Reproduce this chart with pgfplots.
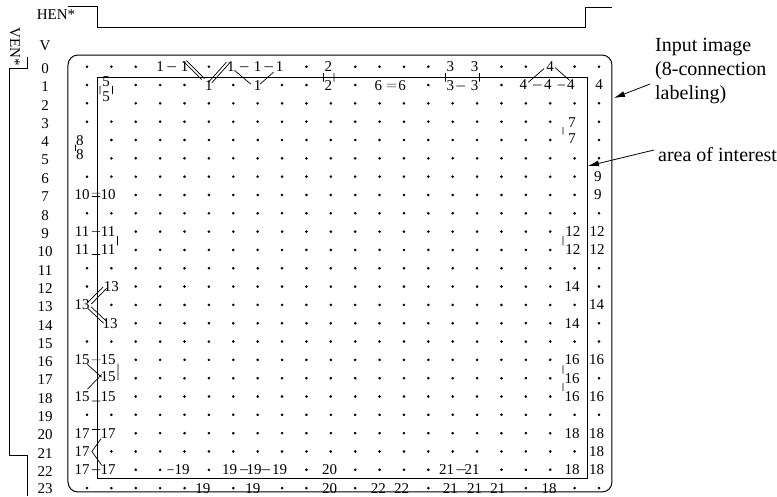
\documentclass[border=0pt]{standalone}
\usepackage{fontspec}
\setmainfont{Liberation Serif}
\usepackage{pgfplots}
\pgfplotsset{compat=1.18}
\usetikzlibrary{arrows.meta}

\newcommand\labfont{\fontsize{15}{18}\selectfont}
\newcommand\notefont{\fontsize{20}{24}\selectfont}

\pgfplotsset{
  every axis/.append style={width=777pt,height=496pt,scale only axis,hide axis,
    clip=false,at={(0,0)},anchor=south west},
  link/.style={black,line width=0.7pt,mark=none,unbounded coords=jump},
  lab/.style={draw=none,mark=none,nodes near coords,point meta=explicit symbolic,
    every node near coord/.append style={anchor=center,inner sep=0pt,font=\labfont,black}},
}

\begin{document}
\begin{tikzpicture}
% grid axis: x = column, y = row (pixel grid of the image)
\begin{axis}[xmin=-3.568,xmax=28.30,ymin=-3.641,ymax=23.43,y dir=reverse]
  % grid points without label
  \addplot[only marks,mark=*,mark size=1.1pt,black] coordinates {
    (0,0)(1,0)(2,0)(5,0)(9,0)(11,0)(12,0)(13,0)(14,0)(17,0)(18,0)(20,0)(21,0)
    (0,1)(2,1)(3,1)(4,1)(6,1)(8,1)(9,1)(11,1)(14,1)(17,1)
    (0,2)(2,2)(3,2)(4,2)(5,2)(6,2)(7,2)(8,2)(9,2)(10,2)(11,2)(12,2)(13,2)(14,2)(15,2)(16,2)(17,2)(18,2)(19,2)(20,2)(21,2)
    (0,3)(1,3)(2,3)(3,3)(4,3)(5,3)(6,3)(7,3)(8,3)(9,3)(10,3)(11,3)(12,3)(13,3)(14,3)(15,3)(16,3)(17,3)(18,3)(19,3)(21,3)
    (1,4)(2,4)(3,4)(4,4)(5,4)(6,4)(7,4)(8,4)(9,4)(10,4)(11,4)(12,4)(13,4)(14,4)(15,4)(16,4)(17,4)(18,4)(19,4)(21,4)
    (1,5)(2,5)(3,5)(4,5)(5,5)(6,5)(7,5)(8,5)(9,5)(10,5)(11,5)(12,5)(13,5)(14,5)(15,5)(16,5)(17,5)(18,5)(19,5)(20,5)(21,5)
    (0,6)(1,6)(2,6)(3,6)(4,6)(5,6)(6,6)(7,6)(8,6)(9,6)(10,6)(11,6)(12,6)(13,6)(14,6)(15,6)(16,6)(17,6)(18,6)(19,6)(20,6)
    (2,7)(3,7)(4,7)(5,7)(6,7)(7,7)(8,7)(9,7)(10,7)(11,7)(12,7)(13,7)(14,7)(15,7)(16,7)(17,7)(18,7)(19,7)(20,7)
    (0,8)(1,8)(2,8)(3,8)(4,8)(5,8)(6,8)(7,8)(8,8)(9,8)(10,8)(11,8)(12,8)(13,8)(14,8)(15,8)(16,8)(17,8)(18,8)(19,8)(20,8)(21,8)
    (2,9)(3,9)(4,9)(5,9)(6,9)(7,9)(8,9)(9,9)(10,9)(11,9)(12,9)(13,9)(14,9)(15,9)(16,9)(17,9)(18,9)(19,9)
    (2,10)(3,10)(4,10)(5,10)(6,10)(7,10)(8,10)(9,10)(10,10)(11,10)(12,10)(13,10)(14,10)(15,10)(16,10)(17,10)(18,10)(19,10)
    (0,11)(1,11)(2,11)(3,11)(4,11)(5,11)(6,11)(7,11)(8,11)(9,11)(10,11)(11,11)(12,11)(13,11)(14,11)(15,11)(16,11)(17,11)(18,11)(19,11)(20,11)(21,11)
    (0,12)(2,12)(3,12)(4,12)(5,12)(6,12)(7,12)(8,12)(9,12)(10,12)(11,12)(12,12)(13,12)(14,12)(15,12)(16,12)(17,12)(18,12)(19,12)(21,12)
    (1,13)(2,13)(3,13)(4,13)(5,13)(6,13)(7,13)(8,13)(9,13)(10,13)(11,13)(12,13)(13,13)(14,13)(15,13)(16,13)(17,13)(18,13)(19,13)(20,13)
    (2,14)(3,14)(4,14)(5,14)(6,14)(7,14)(8,14)(9,14)(10,14)(11,14)(12,14)(13,14)(14,14)(15,14)(16,14)(17,14)(18,14)(19,14)(21,14)
    (0,15)(1,15)(2,15)(3,15)(4,15)(5,15)(6,15)(7,15)(8,15)(9,15)(10,15)(11,15)(12,15)(13,15)(14,15)(15,15)(16,15)(17,15)(18,15)(19,15)(20,15)(21,15)
    (2,16)(3,16)(4,16)(5,16)(6,16)(7,16)(8,16)(9,16)(10,16)(11,16)(12,16)(13,16)(14,16)(15,16)(16,16)(17,16)(18,16)(19,16)
    (2,17)(3,17)(4,17)(5,17)(6,17)(7,17)(8,17)(9,17)(10,17)(11,17)(12,17)(13,17)(14,17)(15,17)(16,17)(17,17)(18,17)(19,17)(21,17)
    (2,18)(3,18)(4,18)(5,18)(6,18)(7,18)(8,18)(9,18)(10,18)(11,18)(12,18)(13,18)(14,18)(15,18)(16,18)(17,18)(18,18)(19,18)
    (0,19)(1,19)(2,19)(3,19)(4,19)(5,19)(6,19)(7,19)(8,19)(9,19)(10,19)(11,19)(12,19)(13,19)(14,19)(15,19)(16,19)(17,19)(18,19)(19,19)(20,19)(21,19)
    (2,20)(3,20)(4,20)(5,20)(6,20)(7,20)(8,20)(9,20)(10,20)(11,20)(12,20)(13,20)(14,20)(15,20)(16,20)(17,20)(18,20)(19,20)
    (1,21)(2,21)(3,21)(4,21)(5,21)(6,21)(7,21)(8,21)(9,21)(10,21)(11,21)(12,21)(13,21)(14,21)(15,21)(16,21)(17,21)(18,21)(19,21)(20,21)
    (2,22)(3,22)(5,22)(9,22)(11,22)(12,22)(13,22)(14,22)(17,22)(18,22)(19,22)
    (0,23)(1,23)(2,23)(3,23)(4,23)(6,23)(8,23)(9,23)(11,23)(14,23)(18,23)(20,23)(21,23)
  };
  % labels of the points
  \addplot[lab] table[meta=t] {
    x y t
    3 0 1
    4 0 1
    5.9 0 1
    7 0 1
    7.9 0 1
    9.9 0 2
    14.9 0 3
    15.9 0 3
    19 0 4
    0.78 0.8 5
    5 1.05 1
    7 1.05 1
    9.9 1.05 2
    11.95 1.05 6
    12.92 1.05 6
    14.9 1.05 3
    15.9 1.05 3
    17.9 1 4
    18.9 1 4
    19.85 1 4
    21 1 4
    0.78 1.62 5
    19.9 3.05 7
    19.9 3.9 7
    -0.29 4.02 8
    -0.29 4.82 8
    20.95 6 9
    -0.2 7 10
    0.87 7 10
    20.95 7 9
    -0.2 9 11
    0.87 9 11
    19.93 9 12
    20.92 9 12
    -0.2 10 11
    0.87 10 11
    19.93 10 12
    20.92 10 12
    1.0 12 13
    19.9 12 14
    -0.2 13 13
    20.9 13 14
    0.95 14 13
    19.9 14 14
    -0.2 16 15
    0.87 16 15
    19.9 16 16
    20.9 16 16
    0.87 16.9 15
    19.9 17 16
    -0.2 18 15
    0.87 18 15
    19.9 18 16
    20.9 18 16
    -0.2 20 17
    0.87 20 17
    19.9 20 18
    20.9 20 18
    -0.2 21 17
    20.9 21 18
    -0.2 22 17
    0.87 22 17
    3.9 22 19
    5.85 22 19
    6.85 22 19
    7.9 22 19
    9.95 22 20
    14.75 22 21
    15.8 22 21
    19.9 22 18
    20.9 22 18
    4.75 23 19
    6.8 23 19
    9.95 23 20
    11.95 23 22
    12.9 23 22
    14.9 23 21
    15.9 23 21
    16.85 23 21
    18.95 23 18
  };
  % row numbers
  \addplot[lab] table[meta=t] {
    x y t
    -1.72 -1.13 V
    -1.72 0.1 0
    -1.72 1.1 1
    -1.72 2.1 2
    -1.72 3.1 3
    -1.72 4.1 4
    -1.72 5.1 5
    -1.72 6.1 6
    -1.72 7.1 7
    -1.72 8.1 8
    -1.72 9.1 9
    -1.72 10.1 10
    -1.72 11.1 11
    -1.72 12.1 12
    -1.72 13.1 13
    -1.72 14.1 14
    -1.72 15.1 15
    -1.72 16.1 16
    -1.72 17.1 17
    -1.72 18.1 18
    -1.72 19.1 19
    -1.72 20.1 20
    -1.72 21.1 21
    -1.72 22.1 22
    -1.72 23.0 23
  };
  % connections between labelled points
  \addplot[link] coordinates {
    (3.3,0)(3.65,0) (nan,nan)
    (3.95,-0.3)(4.7,0.7) (nan,nan)
    (4.08,-0.33)(4.82,0.65) (nan,nan)
    (4.98,0.85)(5.72,-0.25) (nan,nan)
    (5.12,0.88)(5.86,-0.22) (nan,nan)
    (6.28,0)(6.62,0) (nan,nan)
    (7.28,0)(7.62,0) (nan,nan)
    (6.05,0.2)(6.72,0.95) (nan,nan)
    (7.1,0.95)(7.65,0.3) (nan,nan)
    (9.7,0.35)(9.7,0.82) (nan,nan)
    (10.13,0.35)(10.13,0.82) (nan,nan)
    (12.3,0.95)(12.68,0.95) (nan,nan)
    (12.3,1.1)(12.68,1.1) (nan,nan)
    (14.7,0.35)(14.7,0.82) (nan,nan)
    (16.1,0.35)(16.1,0.82) (nan,nan)
    (15.15,1.05)(15.5,1.05) (nan,nan)
    (18.1,0.85)(18.75,0.1) (nan,nan)
    (19.2,0.05)(19.8,0.75) (nan,nan)
    (18.3,1)(18.65,1) (nan,nan)
    (19.3,1)(19.6,1) (nan,nan)
    (0.53,1.05)(0.53,1.5) (nan,nan)
    (1.05,1.05)(1.05,1.5) (nan,nan)
    (-0.47,4.25)(-0.47,4.6) (nan,nan)
    (19.52,3.3)(19.52,3.7) (nan,nan)
    (0.2,6.9)(0.55,6.9) (nan,nan)
    (0.2,7.08)(0.55,7.08) (nan,nan)
    (0.2,9)(0.55,9) (nan,nan)
    (1.25,9.25)(1.25,9.75) (nan,nan)
    (0.2,10.25)(0.55,10.25) (nan,nan)
    (19.52,9.25)(19.52,9.75) (nan,nan)
    (0.04,12.85)(0.66,12.02) (nan,nan)
    (0.18,12.95)(0.8,12.1) (nan,nan)
    (0.04,13.2)(0.68,14.0) (nan,nan)
    (0.18,13.12)(0.82,13.92) (nan,nan)
    (0.2,16)(0.55,16) (nan,nan)
    (1.27,16.2)(1.27,17.1) (nan,nan)
    (0.02,16.25)(0.6,16.95) (nan,nan)
    (0.02,17.6)(0.6,16.8) (nan,nan)
    (0.2,18.25)(0.55,18.25) (nan,nan)
    (19.52,16.3)(19.52,16.75) (nan,nan)
    (19.52,17.25)(19.52,17.7) (nan,nan)
    (0.2,19.8)(0.55,19.8) (nan,nan)
    (0.58,20.3)(0.2,21.0)(0.6,21.75) (nan,nan)
    (0.2,22)(0.55,22) (nan,nan)
    (3.3,22)(3.55,22) (nan,nan)
    (6.28,22)(6.6,22) (nan,nan)
    (7.15,22)(7.5,22) (nan,nan)
    (15.15,22)(15.55,22)
  };
\end{axis}

% frame axis: pixel coordinates of the 777 x 496 figure
\begin{axis}[xmin=0,xmax=777,ymin=0,ymax=496,y dir=reverse]
  \addplot[draw=none] coordinates {(0,0)(777,496)};
  % input image (rounded) and area of interest
  \addplot[black,line width=1pt,rounded corners=10pt] coordinates {
    (340,55)(612,55)(612,492)(68,492)(68,55)(341,55)};
  \addplot[black,line width=0.8pt] coordinates {
    (340,77)(587,77)(587,478)(97,478)(97,77)(341,77)};
  % enable signals
  \addplot[black,line width=0.8pt] coordinates {
    (68,6)(97,6)(97,27)(585,27)(585,7)(612,7)};
  \addplot[black,line width=0.8pt] coordinates {
    (27,57)(27,68)(9,68)(9,455)(27,455)(27,496)};
  % arrows of the notes
  \addplot[black,line width=0.8pt,-{Latex[length=11pt,width=6pt]}] coordinates {
    (650,84)(614,98)};
  \addplot[black,line width=0.8pt,-{Latex[length=11pt,width=6pt]}] coordinates {
    (654,150)(588,166)};
  \node[font=\labfont,inner sep=0pt] at (axis cs:56,15) {HEN*};
  \node[font=\labfont,inner sep=0pt,rotate=-90] at (axis cs:15,47) {VEN*};
  \node[font=\notefont,anchor=base west,inner sep=0pt] at (axis cs:655,51) {Input image};
  \node[font=\notefont,anchor=base west,inner sep=0pt] at (axis cs:655,75) {(8-connection};
  \node[font=\notefont,anchor=base west,inner sep=0pt] at (axis cs:655,99) {labeling)};
  \node[font=\notefont,anchor=base west,inner sep=0pt] at (axis cs:658,161) {area of interest};
\end{axis}
\end{tikzpicture}
\end{document}
